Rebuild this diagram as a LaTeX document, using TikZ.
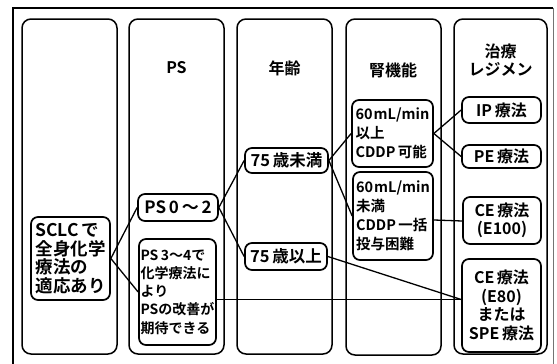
\documentclass[tikz,border=0pt]{standalone}
\usepackage{fontspec}
\setmainfont{Noto Sans CJK JP}[BoldFont={Noto Sans CJK JP Bold}]
\begin{document}
\begin{tikzpicture}[x=1pt,y=-1pt,
  col/.style={draw,line width=1.5pt,rounded corners=9pt},
  rbox/.style={draw,line width=1.7pt,rounded corners=7pt,inner sep=1pt,font=\bfseries},
  hdr/.style={font=\bfseries\fontsize{16}{17.5}\selectfont,align=center,inner sep=0pt},
  conn/.style={line width=1.3pt}]
\useasboundingbox (0,0) rectangle (557,364);
% outer frame
\draw[line width=1.2pt] (13,364) -- (13,8) -- (553,8);
\draw[line width=1pt,black!55] (553,8) -- (553,364);
% columns
\draw[col] (22,19) rectangle (117,354);
\draw[col] (129,19) rectangle (224,354);
\draw[col] (237,19) rectangle (332,354);
\draw[col] (346,19) rectangle (441,355);
\draw[col] (454,19) rectangle (547,354);
% headers
\node[hdr] (hps) at (176.5,68) {PS};
\node[hdr] (hage) at (284.5,68) {年齢};
\node[hdr] (hkid) at (393,70) {腎機能};
\node[hdr] (htx) at (500.5,60) {治療\\レジメン};
% nodes
\node[rbox,minimum width=79pt,minimum height=83pt,align=left,
  font=\bfseries\fontsize{17.5}{18.5}\selectfont] (sclc) at (70.5,258.5)
  {SCLC\,で\\全身化学\\療法の\\適応あり};
\node[rbox,minimum width=80pt,minimum height=27pt,
  font=\bfseries\fontsize{17}{18}\selectfont] (ps02) at (178,207.5) {PS\,0\,～\,2};
\node[rbox,minimum width=77pt,minimum height=106pt,align=left,
  font=\bfseries\fontsize{14}{18.3}\selectfont] (ps34) at (177.5,292)
  {PS\,3～4で\\化学療法に\\より\\PSの改善が\\期待できる};
\node[rbox,minimum width=83pt,minimum height=25pt,
  font=\bfseries\fontsize{16.5}{18}\selectfont] (au) at (286.5,160.5) {75\,歳未満};
\node[rbox,minimum width=82pt,minimum height=27pt,
  font=\bfseries\fontsize{16.5}{18}\selectfont] (ao) at (286,256.5) {75\,歳以上};
\node[rbox,minimum width=81pt,minimum height=67pt,align=left,
  font=\bfseries\fontsize{14.5}{19}\selectfont] (ko) at (392.5,133.5)
  {60\kern1ptmL/min\\以上\\CDDP\,可能};
\node[rbox,minimum width=80pt,minimum height=88pt,align=left,
  font=\bfseries\fontsize{14.5}{19}\selectfont] (ku) at (393,216)
  {60\kern1ptmL/min\\未満\\CDDP\,一括\\投与困難};
\node[rbox,minimum width=79pt,minimum height=26pt,
  font=\bfseries\fontsize{16}{17}\selectfont] (ip) at (501.5,110) {IP\,療法};
\node[rbox,minimum width=79pt,minimum height=23pt,
  font=\bfseries\fontsize{16}{17}\selectfont] (pe) at (501.5,156.5) {PE\,療法};
\node[rbox,minimum width=78pt,minimum height=47pt,align=center,
  font=\bfseries\fontsize{16}{18.5}\selectfont] (ce100) at (502,220.5) {CE\,療法\\(E100)};
\node[rbox,minimum width=79pt,minimum height=93pt,align=center,
  font=\bfseries\fontsize{16}{18.5}\selectfont] (ce80) at (501.5,305.5)
  {CE\,療法\\(E80)\\または\\SPE\,療法};
\coordinate (c80) at ([yshift=6pt]ce80.west);
% connectors
\draw[conn] (sclc.east) -- (ps02.west);
\draw[conn] (sclc.east) -- (ps34.west);
\draw[conn] (ps02.east) -- (au.west);
\draw[conn] (ps02.east) -- (ao.west);
\draw[conn] (au.east) -- (ko.west);
\draw[conn] (au.east) -- (ku.west);
\draw[conn] (ko.east) -- (ip.west);
\draw[conn] (ko.east) -- (pe.west);
\draw[conn] ([yshift=-4pt]ku.east) -- ([yshift=-0.5pt]ce100.west);
\draw[conn] (ao.east) -- (c80);
\draw[conn] (ps34.east |- c80) -- (c80);
\end{tikzpicture}
\end{document}
